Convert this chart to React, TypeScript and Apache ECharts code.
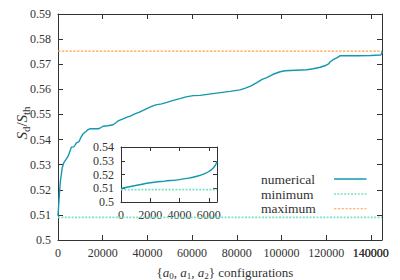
import React, { useEffect, useRef } from "react";
import * as echarts from "echarts";

// Main curve: number of {a0,a1,a2} configurations vs S_d/S_th
const configX = [
  0, 450, 760, 1120, 1520, 1880, 2560, 3770, 4570, 5250, 6010, 7040, 7710, 8250, 9420,
  10400, 11210, 12420, 13320, 14210, 17940, 18700, 20180, 22290, 24660, 25870, 26900,
  28560, 30670, 32600, 34390, 36190, 38120, 40000, 41880, 43810, 46370, 48740, 51570,
  54570, 57260, 60540, 63540, 71030, 76990, 81480, 84170, 86410, 88970, 91340, 93450,
  96280, 99420, 101660, 103900, 111390, 114210, 117350, 120040, 121070, 121830, 123180,
  124970, 126330, 133810, 139770, 144480, 144930, 145000,
];
const sdRatio = [
  0.5096, 0.5159, 0.5199, 0.5239, 0.5263, 0.5287, 0.5307, 0.5323, 0.5335, 0.5351, 0.537,
  0.5371, 0.5379, 0.5387, 0.5392, 0.5411, 0.5423, 0.5431, 0.5439, 0.5443, 0.5443, 0.5445,
  0.5453, 0.5455, 0.5459, 0.5467, 0.5474, 0.548, 0.5488, 0.5494, 0.5502, 0.5508, 0.5516,
  0.5524, 0.5532, 0.5538, 0.5542, 0.5548, 0.5556, 0.5563, 0.557, 0.5575, 0.5576, 0.5585,
  0.5592, 0.5598, 0.5606, 0.5614, 0.5627, 0.564, 0.5647, 0.566, 0.567, 0.5674, 0.5675,
  0.5678, 0.5682, 0.5688, 0.5696, 0.5701, 0.571, 0.5718, 0.5726, 0.5734, 0.5734, 0.5735,
  0.5737, 0.5746, 0.5752,
];

// Inset curve
const insetX = [0, 1000, 2000, 3000, 4000, 4500, 5000, 5500, 5800, 6000, 6200, 6400, 6500, 6560];
const insetRatio = [
  0.5098, 0.512, 0.514, 0.5152, 0.5163, 0.5172, 0.5182, 0.5197, 0.521, 0.5222, 0.5237,
  0.526, 0.5278, 0.5297,
];

const MIN_RATIO = 0.509;
const MAX_RATIO = 0.5752;
const MAIN_X_MAX = 145000;
const INSET_X_MAX = 6560;

const mainXTicks = [0, 20000, 40000, 60000, 80000, 100000, 120000, 140000];
const insetXTicks = [0, 2000, 4000, 6000];

const legendLabels = ["numerical", "minimum", "maximum"];

const C_NUM = "#1497b0";
const C_MIN = "#7fe0c6";
const C_MAX = "#ffa347";
const AX = "#333333";
const FONT = "'Liberation Serif', 'Times New Roman', serif";
const LABEL_MARGIN = 7;

export default function App() {
  const ref = useRef<HTMLDivElement>(null);
  useEffect(() => {
    if (!ref.current) return;
    const chart = echarts.init(ref.current, null, { renderer: "svg" });

    const fmt = (v: number) => String(Math.round(v * 1000) / 1000);
    const label = {
      color: AX,
      fontFamily: FONT,
      fontSize: 12,
      margin: LABEL_MARGIN,
      showMinLabel: true,
      showMaxLabel: true,
      hideOverlap: false,
      formatter: fmt,
    };
    const mkAxis = (
      gridIndex: number,
      pos: string,
      min: number,
      max: number,
      interval: number,
      showLabel: boolean,
      tickLen: number,
      custom?: number[]
    ) => ({
      type: "value",
      gridIndex,
      position: pos,
      min,
      max,
      interval,
      axisLine: { show: true, onZero: false, lineStyle: { color: AX, width: 1 } },
      axisTick: {
        show: true,
        inside: true,
        length: tickLen,
        lineStyle: { color: AX },
        ...(custom ? { customValues: custom } : {}),
      },
      splitLine: { show: false },
      axisLabel: showLabel
        ? { ...label, ...(custom ? { customValues: custom } : {}) }
        : { show: false },
    });

    const mainData = configX.map((x, i) => [x, sdRatio[i]]);
    const insetData = insetX.map((x, i) => [x, insetRatio[i]]);

    const legendY = [179, 194, 208.7];
    const legendStyles = [
      { stroke: C_NUM, lineWidth: 1.4 },
      { stroke: C_MIN, lineWidth: 1.6, lineDash: [2, 1.4] },
      { stroke: C_MAX, lineWidth: 1.1, lineDash: [2.4, 1.4] },
    ];

    const graphics: any[] = [
      ...legendLabels.map((t, i) => ({
        type: "text",
        x: 261,
        y: legendY[i],
        style: {
          text: t,
          fill: AX,
          fontFamily: FONT,
          fontSize: 13.5,
          align: "left",
          verticalAlign: "middle",
        },
      })),
      ...legendLabels.map((t, i) => ({
        type: "line",
        shape: { x1: 334, y1: legendY[i], x2: 366.5, y2: legendY[i] },
        style: legendStyles[i],
      })),
      {
        type: "text",
        x: 22,
        y: 123,
        rotation: Math.PI / 2,
        style: {
          text: "{i|S}{sub|d}{r|/}{i|S}{sub|th}",
          fill: AX,
          fontFamily: FONT,
          fontSize: 15,
          align: "center",
          verticalAlign: "middle",
          rich: {
            i: { fontFamily: FONT, fontSize: 15, fontStyle: "italic", fill: AX, lineHeight: 18, verticalAlign: "middle" },
            r: { fontFamily: FONT, fontSize: 15, fill: AX, lineHeight: 18, verticalAlign: "middle" },
            sub: { fontFamily: FONT, fontSize: 11, fill: AX, lineHeight: 10, verticalAlign: "bottom" },
          },
        },
      },
      {
        type: "text",
        x: 225,
        y: 272,
        style: {
          text: "{r|{}{i|a}{s|0}{r|, }{i|a}{s|1}{r|, }{i|a}{s|2}} {r|configurations}",
          fill: AX,
          fontFamily: FONT,
          fontSize: 13,
          align: "center",
          verticalAlign: "middle",
          rich: {
            i: { fontFamily: FONT, fontSize: 13, fontStyle: "italic", fill: AX, lineHeight: 16, verticalAlign: "middle" },
            r: { fontFamily: FONT, fontSize: 13, fill: AX, lineHeight: 16, verticalAlign: "middle" },
            s: { fontFamily: FONT, fontSize: 9, fill: AX, lineHeight: 9, verticalAlign: "bottom" },
          },
        },
      },
    ];

    chart.setOption({
      animation: false,
      backgroundColor: "#ffffff",
      grid: [
        { left: 58, top: 14, right: 18, bottom: 40, containLabel: false },
        { left: 121, top: 147, width: 96, height: 55, containLabel: false },
      ],
      xAxis: [
        mkAxis(0, "bottom", 0, MAIN_X_MAX, 20000, true, 5, mainXTicks),
        mkAxis(0, "top", 0, MAIN_X_MAX, 20000, false, 5, mainXTicks),
        mkAxis(1, "bottom", 0, INSET_X_MAX, 2000, true, 4, insetXTicks),
        mkAxis(1, "top", 0, INSET_X_MAX, 2000, false, 4, insetXTicks),
      ],
      yAxis: [
        mkAxis(0, "left", 0.5, 0.59, 0.01, true, 5),
        mkAxis(0, "right", 0.5, 0.59, 0.01, false, 5),
        mkAxis(1, "left", 0.5, 0.54, 0.01, true, 4),
        mkAxis(1, "right", 0.5, 0.54, 0.01, false, 4),
      ],
      series: [
        {
          type: "line",
          xAxisIndex: 0,
          yAxisIndex: 0,
          data: [[0, MIN_RATIO], [MAIN_X_MAX, MIN_RATIO]],
          showSymbol: false,
          lineStyle: { color: C_MIN, width: 1.6, type: [2, 1.4] },
        },
        {
          type: "line",
          xAxisIndex: 0,
          yAxisIndex: 0,
          data: [[0, MAX_RATIO], [MAIN_X_MAX, MAX_RATIO]],
          showSymbol: false,
          lineStyle: { color: C_MAX, width: 1.1, type: [2.4, 1.4] },
        },
        {
          type: "line",
          xAxisIndex: 0,
          yAxisIndex: 0,
          data: mainData,
          showSymbol: false,
          lineStyle: { color: C_NUM, width: 1.4 },
        },
        {
          type: "line",
          xAxisIndex: 2,
          yAxisIndex: 2,
          data: [[0, MIN_RATIO], [INSET_X_MAX, MIN_RATIO]],
          showSymbol: false,
          lineStyle: { color: C_MIN, width: 1.6, type: [2, 1.4] },
        },
        {
          type: "line",
          xAxisIndex: 2,
          yAxisIndex: 2,
          data: insetData,
          showSymbol: false,
          smooth: 0.3,
          lineStyle: { color: C_NUM, width: 1.4 },
        },
      ],
      graphic: graphics,
    });

    // The last main x tick label gets dropped by the axis layout; place it from the axis scale.
    const lastTick = mainXTicks[mainXTicks.length - 1];
    const px = chart.convertToPixel({ xAxisIndex: 0 }, lastTick) as number;
    const py = chart.convertToPixel({ yAxisIndex: 0 }, 0.5) as number;
    if (Number.isFinite(px) && Number.isFinite(py)) {
      chart.setOption(
        {
          graphic: [
            ...graphics,
            {
              type: "text",
              x: px,
              y: py + LABEL_MARGIN,
              style: {
                text: fmt(lastTick),
                fill: AX,
                fontFamily: FONT,
                fontSize: 12,
                align: "center",
                verticalAlign: "top",
              },
            },
          ],
        },
        { replaceMerge: ["graphic"] }
      );
    }
    return () => chart.dispose();
  }, []);
  return (
    <div
      ref={ref}
      style={{ position: "fixed", left: 0, top: 0, width: 400, height: 280, background: "#fff" }}
    />
  );
}
